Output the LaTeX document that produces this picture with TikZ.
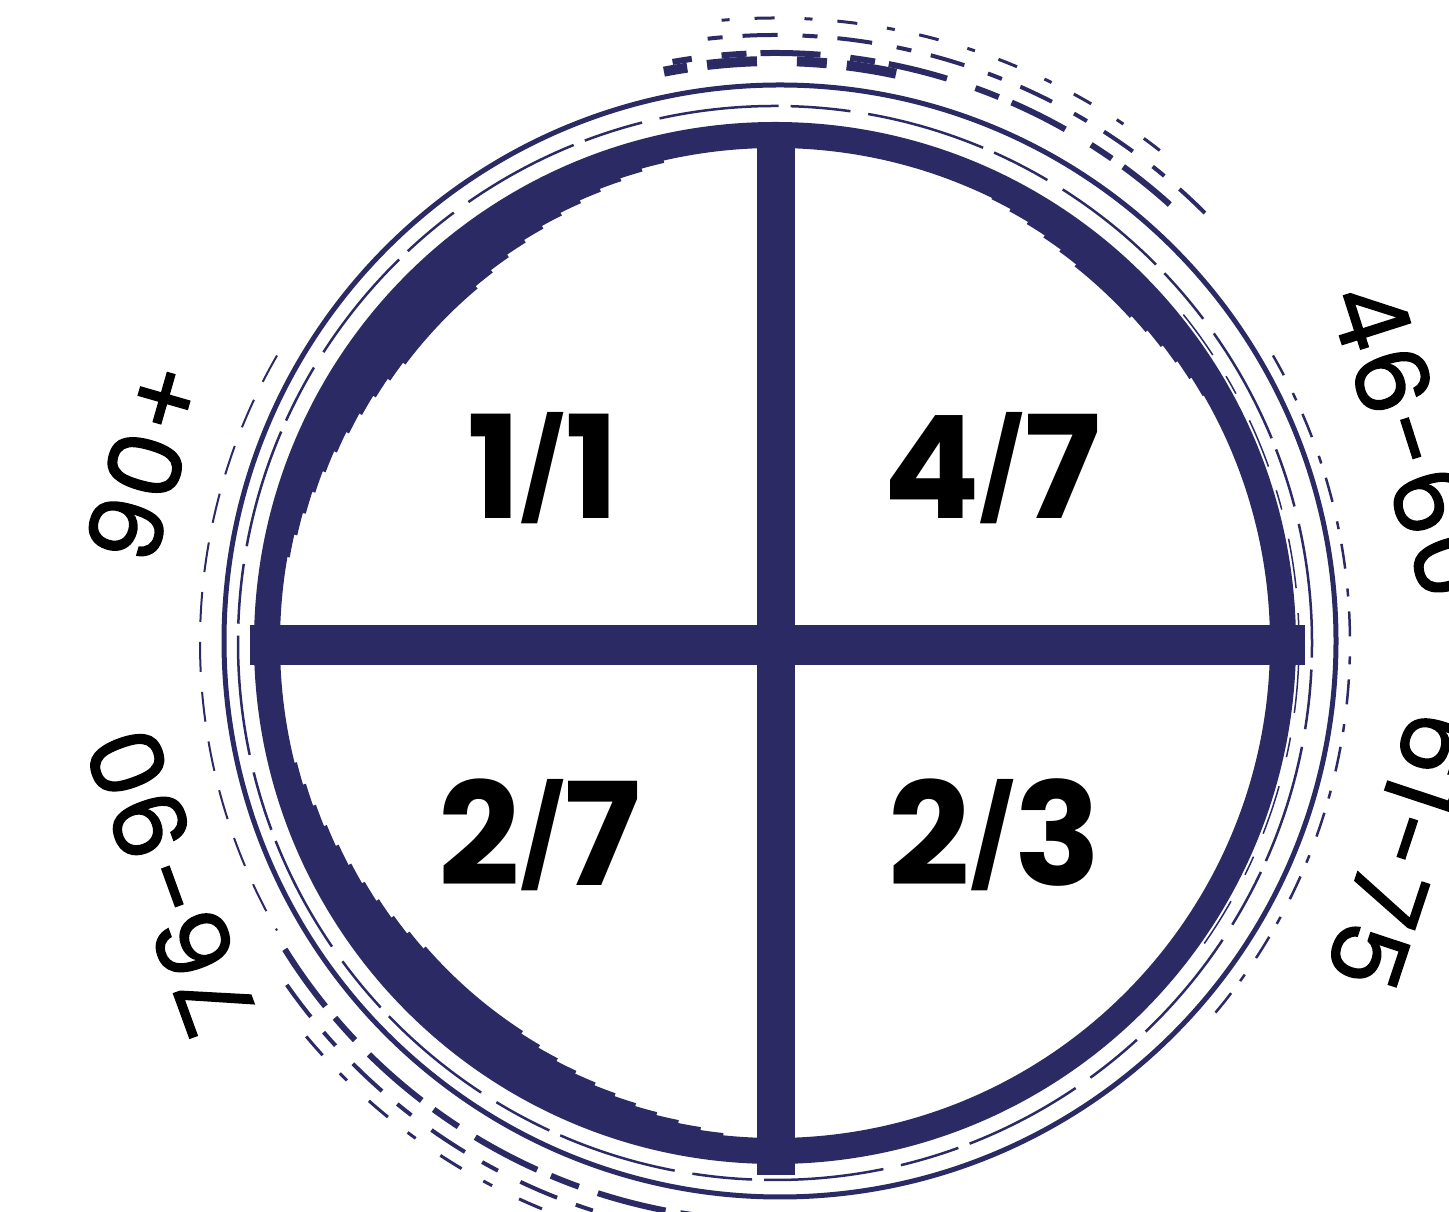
\documentclass[tikz,border=0pt]{standalone}
\usepackage{fontspec}
\setmainfont{Poppins}
\newfontfamily\agefont{Poppins}[FakeBold=1.5, LetterSpace=4]
\usetikzlibrary{calc}
\definecolor{navy}{RGB}{44,42,100}
\newcommand{\fsl}{{\fontsize{98}{98}\selectfont\raisebox{13pt}{/}}}
\tikzset{
  mainring/.style={draw=navy, line width=26pt},
  taper/.style={draw=navy, line width=4.5pt},
  thinring/.style={draw=navy, line width=5pt},
  hairring/.style={draw=navy, line width=2.5pt},
  brush/.style={draw=navy, line width=#1},
  bar/.style={draw=navy, line width=#1},
  fraclabel/.style={font=\fontsize{143}{143}\selectfont\bfseries, text=black, inner sep=0pt},
  agelabel/.style={font=\fontsize{100}{100}\agefont, text=black, inner sep=0pt},
}
\begin{document}
\begin{tikzpicture}[x=1pt,y=1pt]
\useasboundingbox (0,0) rectangle (1449,1212);
\fill[white] (0,0) rectangle (1449,1212);
\coordinate (C) at (775,569);
\coordinate (C2) at (780,571);
% main brush ring
\draw[mainring] (C) circle[radius=508];
\foreach \k in {0,...,10}{
  \draw[taper] ($(C)+(103+2.7*\k:{495-3*\k})$) arc[start angle={103+2.7*\k}, end angle={170-2.7*\k}, radius={495-3*\k}];
  \draw[taper] ($(C)+(194+2.7*\k:{495-3*\k})$) arc[start angle={194+2.7*\k}, end angle={264-2.7*\k}, radius={495-3*\k}];
}
\foreach \k in {0,...,5}{
  \draw[taper] ($(C)+(30+2.5*\k:{496-2.5*\k})$) arc[start angle={30+2.5*\k}, end angle={64-2.5*\k}, radius={496-2.5*\k}];
}
% outer thin rings
\draw[thinring] (C2) circle[radius=556];
\draw[hairring, dash pattern=on 120pt off 18pt on 60pt off 12pt] (C) circle[radius=537];
\draw[brush=1.5pt, dash pattern=on 50pt off 30pt on 20pt off 25pt] ($(C)+(-35:524)$) arc[start angle=-35, end angle=40, radius=524];
% brush fragments top
\draw[brush=6pt, dash pattern=on 60pt off 14pt on 25pt off 30pt] ($(C)+(48:590)$) arc[start angle=48, end angle=100, radius=590];
\draw[brush=4pt, dash pattern=on 35pt off 20pt on 15pt off 25pt] ($(C)+(45:608)$) arc[start angle=45, end angle=98, radius=608];
\draw[brush=3pt, dash pattern=on 20pt off 25pt on 8pt off 30pt] ($(C)+(52:625)$) arc[start angle=52, end angle=95, radius=625];
\draw[brush=10pt, dash pattern=on 50pt off 20pt on 30pt off 40pt] ($(C)+(78:582)$) arc[start angle=78, end angle=101, radius=582];
% brush fragments bottom-left
\draw[brush=6pt, dash pattern=on 70pt off 15pt on 30pt off 20pt] ($(C)+(212:578)$) arc[start angle=212, end angle=272, radius=578];
\draw[brush=4pt, dash pattern=on 40pt off 20pt on 18pt off 25pt] ($(C)+(215:596)$) arc[start angle=215, end angle=268, radius=596];
\draw[brush=3pt, dash pattern=on 25pt off 25pt on 10pt off 30pt] ($(C)+(220:612)$) arc[start angle=220, end angle=262, radius=612];
% brush fragments left and right
\draw[brush=2pt, dash pattern=on 30pt off 20pt] ($(C)+(150:575)$) arc[start angle=150, end angle=210, radius=575];
\draw[brush=2.5pt, dash pattern=on 25pt off 15pt on 8pt off 20pt] ($(C)+(-40:575)$) arc[start angle=-40, end angle=30, radius=575];
% cross
\coordinate (top) at (776,1072);
\coordinate (bottom) at (776,37);
\coordinate (left) at (250,567);
\coordinate (right) at (1305,567);
\draw[bar=38pt] (top) -- (bottom);
\draw[bar=40pt] (left) -- (right);
% quadrant labels
\node[fraclabel] (q1) at (543,744) {1\fsl1};
\node[fraclabel] (q2) at (992,744) {4\fsl7};
\node[fraclabel] (q3) at (540,377) {2\fsl7};
\node[fraclabel] (q4) at (995,377) {2\fsl3};
% age labels
\node[agelabel, rotate=74] (a1) at ($(C)+(164:655)$) {90+};
\node[agelabel, rotate=110] (a2) at ($(C)+(201.5:650)$) {76-90};
\node[agelabel, rotate=-72.3] (a3) at ($(C)+(17.7:668)$) {46-60};
\node[agelabel, rotate=-108.3] (a4) at ($(C)+(-18.3:662)$) {61-75};
\end{tikzpicture}
\end{document}
